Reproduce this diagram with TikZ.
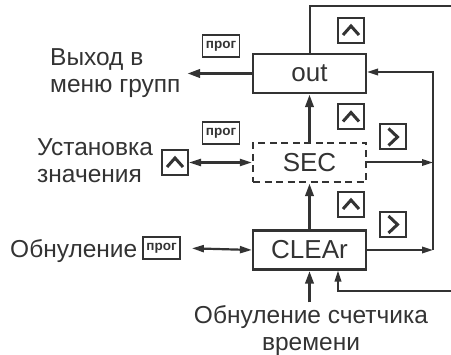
\documentclass[tikz,border=0pt]{standalone}
\usepackage{fontspec}
\setmainfont{Liberation Sans}
\usepackage{tikz}
\usetikzlibrary{positioning,arrows.meta}
\definecolor{ink}{HTML}{333333}
\newcommand{\lblfont}{\fontsize{24.5}{27}\selectfont}
\newcommand{\blkfont}{\fontsize{26}{30}\selectfont}
\newcommand{\progfont}{\fontsize{13.5}{14}\selectfont\bfseries}

\tikzset{
    blk/.style={draw=ink, line width=2.2pt, minimum width=113pt, minimum height=39pt,
        inner sep=0pt, font=\blkfont, text=ink},
    key/.style={draw=ink, line width=2pt, minimum width=26pt, minimum height=25pt, inner sep=0pt},
    keyup/.style={key, path picture={\draw[ink, line width=3pt]
        ([shift={(-8pt,-4.5pt)}]path picture bounding box.center) -- ++(8pt,9pt) -- ++(8pt,-9pt);}},
    keyright/.style={key, path picture={\draw[ink, line width=3pt]
        ([shift={(-4.5pt,8.5pt)}]path picture bounding box.center) -- ++(9pt,-8.5pt) -- ++(-9pt,-8.5pt);}},
    prog/.style={draw=ink, line width=1.8pt, minimum width=37pt, minimum height=22pt,
        inner sep=0pt, font=\progfont, text=ink},
    lbl/.style={font=\lblfont, text=ink, inner sep=0pt, align=left},
    fat/.style={draw=ink, line width=3.6pt, -{Triangle[length=13pt,width=8pt]}},
    mid/.style={draw=ink, line width=2.2pt, {Triangle[length=12pt,width=7pt]}-{Triangle[length=12pt,width=7pt]}},
    slim/.style={draw=ink, line width=2pt, -{Triangle[length=11pt,width=6.5pt]}},
    loopline/.style={draw=ink, line width=2pt}
}

\begin{document}
\begin{tikzpicture}[x=1pt, y=-1pt]
    \useasboundingbox (0,0) rectangle (451,355);

    % Menu blocks
    \node[blk] (out) at (309.5,73.5) {out};
    \node[blk, dash pattern=on 7pt off 4.5pt] (sec) at (309.5,162.5) {SEC};
    \node[blk] (clear) at (309.5,250) {CLEAr};

    % Exit to the group menu
    \node[lbl, anchor=north west] (exitlbl) at (50,48.5) {Выход в\\меню групп};
    \node[prog] (progout) at (221,46) {прог};
    \coordinate (exit) at (187,73.5);
    \draw[fat] (out.west) -- (exit);

    % Setting the value
    \node[lbl, anchor=north west] (setlbl) at (37,138.5) {Установка\\значения};
    \node[keyup] (setkey) at (175,162.5) {};
    \node[prog] (progsec) at (221,133) {прог};
    \draw[mid] (setkey.east) -- (sec.west);

    % Reset
    \node[lbl, anchor=base west] (rstlbl) at (10,258) {Обнуление};
    \node[prog] (progclr) at (161.5,248) {прог};
    \draw[mid, shorten <=11pt] (progclr.east) -- (clear.west);

    % Timer reset from below
    \node[lbl, align=center, anchor=north] (timelbl) at (311,305.5) {Обнуление счетчика\\времени};
    \draw[fat, shorten <=3pt] (timelbl.north -| clear) -- (clear.south);

    % Steps between the blocks
    \draw[fat] (sec.north) -- (out.south);
    \draw[fat] (clear.north) -- (sec.south);

    % Right rail back to out
    \coordinate (rail) at (433,0);
    \draw[slim] (sec.east) -- (sec.east -| rail);
    \draw[slim] (clear.east) -- (clear.east -| rail);
    \draw[slim] (clear.east -| rail) -- ([yshift=1.5pt]out.east -| rail) -- ([yshift=1.5pt]out.east);

    % Loop round the edge
    \coordinate (topend) at (451,6);
    \coordinate (botend) at (451,291);
    \draw[loopline] (out.north) |- (topend);
    \draw[slim] (botend) -| ([xshift=28.5pt]clear.south);

    % Keys along the arrows
    \foreach \name/\y in {upa/30.5, upb/117, upc/204.5}
        \node[keyup] (\name) at (351,\y) {};
    \foreach \name/\y in {rta/137, rtb/224.5}
        \node[keyright] (\name) at (393,\y) {};
\end{tikzpicture}
\end{document}
